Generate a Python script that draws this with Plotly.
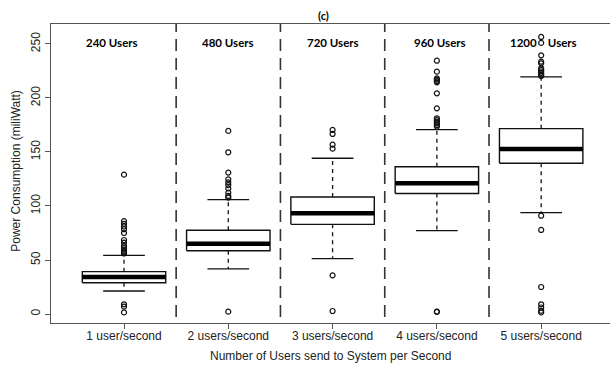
import plotly.graph_objects as go

categories = ["1 user/second", "2 users/second", "3 users/second", "4 users/second", "5 users/second"]
group_labels = ["240 Users", "480 Users", "720 Users", "960 Users", "1200    Users"]
label_pos = [0.885, 2.0, 3.0, 4.03, 5.02]
q1 = [29.0, 58.6, 83.0, 111.6, 139.6]
median = [34.3, 65.1, 93.2, 121.0, 152.8]
q3 = [39.2, 77.5, 108.3, 136.4, 171.6]
lower_whisker = [21.3, 41.7, 51.2, 77.2, 93.8]
upper_whisker = [54.3, 105.9, 144.2, 170.7, 219.6]
outliers = [
    [129, 86, 83.5, 81, 78.5, 75, 68.5, 66, 63, 61, 59.5, 58, 57, 56, 9, 6.8, 1.5],
    [169.5, 149.7, 130.9, 124.7, 121.9, 119.4, 116.3, 112.3, 109.3, 107.7, 2.2],
    [170.4, 166.7, 156.8, 153.1, 35.8, 2.8],
    [234.5, 224.4, 218.2, 217, 215.7, 214.5, 204.3, 190.4, 181.2, 179.5, 178, 176.5, 175, 173.5, 2.2, 2.0],
    [256.5, 251, 239.5, 233.6, 232.1, 227.5, 226, 224.5, 223, 221.5, 220.4, 91, 77.8, 25, 9, 6, 3, 1.5],
]
y_ticks = [0, 50, 100, 150, 200, 250]

BOX_HALF = 0.4
CAP_HALF = 0.2
LINE = "#111111"

fig = go.Figure()
for i in range(len(categories)):
    x = i + 1
    fig.add_trace(go.Scatter(x=[x, x], y=[q3[i], upper_whisker[i]], mode="lines",
                             line=dict(color=LINE, width=1.3, dash="4px,4px"), showlegend=False, hoverinfo="skip"))
    fig.add_trace(go.Scatter(x=[x, x], y=[q1[i], lower_whisker[i]], mode="lines",
                             line=dict(color=LINE, width=1.3, dash="4px,4px"), showlegend=False, hoverinfo="skip"))
    for w in (upper_whisker[i], lower_whisker[i]):
        fig.add_trace(go.Scatter(x=[x - CAP_HALF, x + CAP_HALF], y=[w, w], mode="lines",
                                 line=dict(color=LINE, width=1.3), showlegend=False, hoverinfo="skip"))
    fig.add_trace(go.Scatter(x=[x - BOX_HALF, x + BOX_HALF, x + BOX_HALF, x - BOX_HALF, x - BOX_HALF],
                             y=[q1[i], q1[i], q3[i], q3[i], q1[i]], mode="lines", fill="toself",
                             fillcolor="white", line=dict(color=LINE, width=1.4), showlegend=False, hoverinfo="skip"))
    fig.add_trace(go.Scatter(x=[x - BOX_HALF, x + BOX_HALF], y=[median[i], median[i]], mode="lines",
                             line=dict(color="black", width=4.5), showlegend=False, hoverinfo="skip"))
    fig.add_trace(go.Scatter(x=[x] * len(outliers[i]), y=outliers[i], mode="markers",
                             marker=dict(symbol="circle-open", size=5, color=LINE, line=dict(width=1.2)),
                             showlegend=False, hoverinfo="skip"))

for i in range(len(categories) - 1):
    fig.add_shape(type="line", xref="x", yref="paper", x0=i + 1.5, x1=i + 1.5, y0=0.02, y1=1.0,
                  line=dict(color="#333333", width=1.6, dash="12px,7px"))

for lab, xp in zip(group_labels, label_pos):
    fig.add_annotation(x=xp, y=251, xref="x", yref="y", text="<b>%s</b>" % lab, showarrow=False,
                       font=dict(family="Lato", size=11.5, color="black"))

fig.add_annotation(x=0.487, y=1.027, xref="paper", yref="paper", text="<b>(c)</b>", showarrow=False,
                   font=dict(family="Lato", size=11, color="black"), yanchor="middle")

fig.add_annotation(x=0.5, y=-0.110, xref="paper", yref="paper", text="Number of Users send to System per Second",
                   showarrow=False, yanchor="middle", font=dict(family="Liberation Sans", size=12, color="#222222"))
fig.add_annotation(x=-0.064, y=0.51, xref="paper", yref="paper", text="Power Consumption (miliWatt)",
                   showarrow=False, textangle=-90, xanchor="center", yanchor="middle",
                   font=dict(family="Liberation Sans", size=12, color="#222222"))

fig.update_layout(
    width=610, height=365,
    margin=dict(l=51, r=0, t=24, b=42),
    plot_bgcolor="white", paper_bgcolor="white",
    font=dict(family="Liberation Sans", size=12, color="#222222"),
    xaxis=dict(range=[0.30, 5.66], tickvals=[1, 2, 3, 4, 5], ticktext=categories, automargin=False,
               showgrid=False, zeroline=False, showline=True, linecolor="#555555", linewidth=1.2,
               mirror=True, ticks="outside", ticklen=5, tickcolor="#555555", ticklabelstandoff=-4),
    yaxis=dict(range=[-8.33, 268.5], tickvals=y_ticks, showgrid=False, zeroline=False, automargin=False,
               showline=True, linecolor="#555555", linewidth=1.2, ticks="outside", ticklen=5,
               tickcolor="#555555", tickangle=-90),
)

fig.write_html("out.html", config={"displayModeBar": False},
               post_script="document.body.style.margin='0';document.body.style.overflow='hidden';")
